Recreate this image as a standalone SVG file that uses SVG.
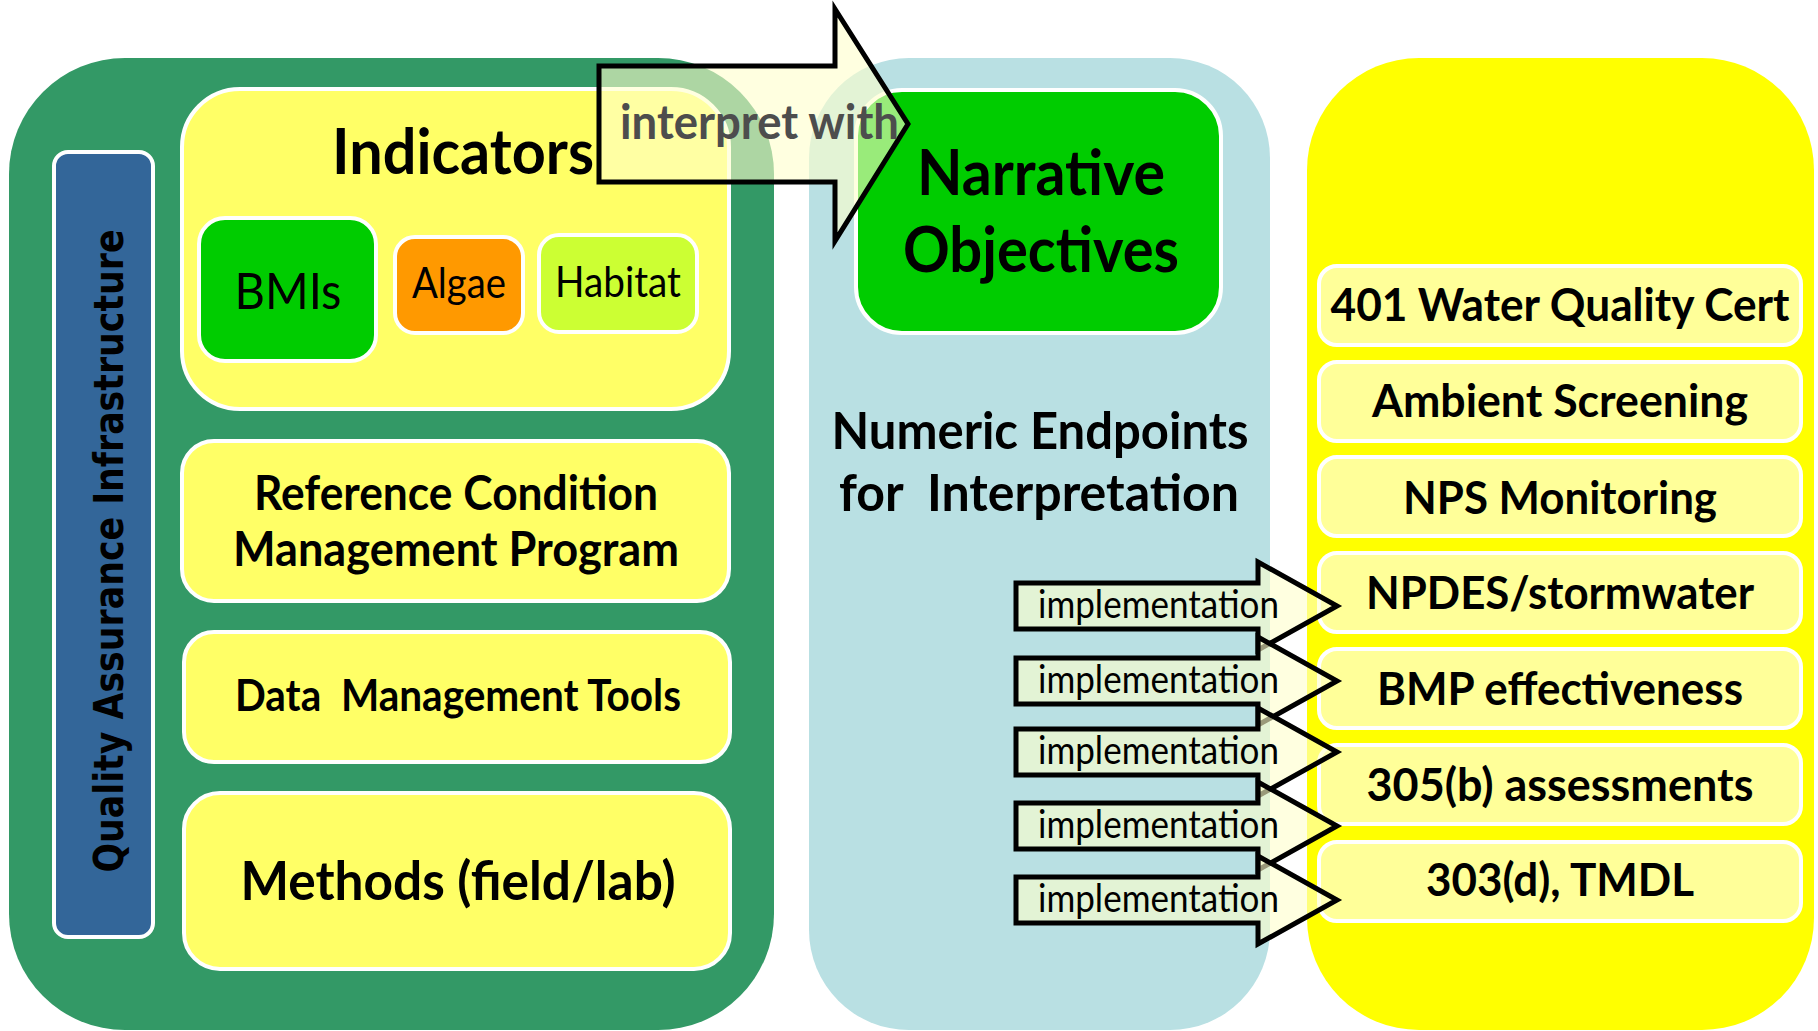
<svg xmlns="http://www.w3.org/2000/svg" width="1818" height="1031" viewBox="0 0 1818 1031">
<style>
.t{font-family:Lato,'Liberation Sans',sans-serif;fill:#000}
.b{font-weight:bold}
.box{stroke:#fff;stroke-width:4}
.rbox{fill:#FFFF99;stroke:#fff;stroke-width:4}
.ybox{fill:#FFFF66;stroke:#fff;stroke-width:4}
.arrow{fill:#FFFFCC;fill-opacity:0.6;stroke:#000;stroke-width:5;stroke-linejoin:miter}
.rt{font-size:46px;font-weight:bold}
.imp{font-size:38px}
</style>
<rect width="1818" height="1031" fill="#fff"/>
<g id="panel-left">
<rect x="9" y="58" width="765" height="972" rx="116" fill="#339966"/>
</g>
<g id="panel-middle">
<rect x="809" y="58" width="461" height="972" rx="100" fill="#B9E0E3"/>
</g>
<g id="panel-right">
<rect x="1307" y="58" width="507" height="972" rx="112" fill="#FFFF00"/>
</g>
<g id="qa">
<rect x="54" y="152" width="99" height="785" rx="14" fill="#336699" stroke="#fff" stroke-width="4"/>
<text class="t b" transform="translate(123,551) rotate(-90)" text-anchor="middle" font-size="40" textLength="643" lengthAdjust="spacingAndGlyphs" style="font-family:'DejaVu Sans',sans-serif">Quality Assurance Infrastructure</text>
</g>
<g id="indicators">
<rect class="ybox" x="182" y="89" width="547" height="320" rx="58"/>
<text class="t b" x="463" y="174" font-size="63" text-anchor="middle" textLength="262" lengthAdjust="spacingAndGlyphs">Indicators</text>
</g>
<g id="bmis">
<rect class="box" x="199" y="218" width="177" height="143" rx="26" fill="#00CC00"/>
<text class="t" x="288" y="309" font-size="50" text-anchor="middle" textLength="107" lengthAdjust="spacingAndGlyphs">BMIs</text>
</g>
<g id="algae">
<rect class="box" x="395" y="237" width="128" height="96" rx="20" fill="#FF9900"/>
<text class="t" x="459" y="298" font-size="42" text-anchor="middle" textLength="94" lengthAdjust="spacingAndGlyphs">Algae</text>
</g>
<g id="habitat">
<rect class="box" x="539" y="235" width="158" height="97" rx="20" fill="#CCFF33"/>
<text class="t" x="618" y="297" font-size="42" text-anchor="middle" textLength="126" lengthAdjust="spacingAndGlyphs">Habitat</text>
</g>
<g id="reference">
<rect class="ybox" x="182" y="441" width="547" height="160" rx="32"/>
<text class="t b" x="456" y="510" font-size="47" text-anchor="middle" textLength="404" lengthAdjust="spacingAndGlyphs">Reference Condition</text>
<text class="t b" x="456" y="566" font-size="47" text-anchor="middle" textLength="446" lengthAdjust="spacingAndGlyphs">Management Program</text>
</g>
<g id="data">
<rect class="ybox" x="184" y="632" width="546" height="130" rx="30"/>
<text class="t b" x="458" y="711" font-size="43" text-anchor="middle" textLength="446" lengthAdjust="spacingAndGlyphs" xml:space="preserve">Data  Management Tools</text>
</g>
<g id="methods">
<rect class="ybox" x="184" y="793" width="546" height="176" rx="36"/>
<text class="t b" x="458" y="900" font-size="54" text-anchor="middle" textLength="435" lengthAdjust="spacingAndGlyphs">Methods (field/lab)</text>
</g>
<g id="narrative">
<rect class="box" x="856" y="90" width="365" height="243" rx="46" fill="#00CC00"/>
<text class="t b" x="1041" y="195" font-size="63" text-anchor="middle" textLength="248" lengthAdjust="spacingAndGlyphs">Narrative</text>
<text class="t b" x="1041" y="272" font-size="63" text-anchor="middle" textLength="276" lengthAdjust="spacingAndGlyphs">Objectives</text>
</g>
<g id="numeric">
<text class="t b" x="1040" y="449" font-size="52" text-anchor="middle" textLength="417" lengthAdjust="spacingAndGlyphs">Numeric Endpoints</text>
<text class="t b" x="1039" y="511" font-size="52" text-anchor="middle" textLength="400" lengthAdjust="spacingAndGlyphs" xml:space="preserve">for  Interpretation</text>
</g>
<g id="uses">
<rect class="rbox" x="1319" y="266" width="482" height="79" rx="18"/>
<text class="t rt" x="1560" y="321" text-anchor="middle" textLength="459" lengthAdjust="spacingAndGlyphs">401 Water Quality Cert</text>
<rect class="rbox" x="1319" y="362" width="482" height="79" rx="18"/>
<text class="t rt" x="1560" y="417" text-anchor="middle" textLength="376" lengthAdjust="spacingAndGlyphs">Ambient Screening</text>
<rect class="rbox" x="1319" y="457" width="482" height="79" rx="18"/>
<text class="t rt" x="1560" y="514" text-anchor="middle" textLength="314" lengthAdjust="spacingAndGlyphs">NPS Monitoring</text>
<rect class="rbox" x="1319" y="553" width="482" height="79" rx="18"/>
<text class="t rt" x="1560" y="609" text-anchor="middle" textLength="388" lengthAdjust="spacingAndGlyphs">NPDES/stormwater</text>
<rect class="rbox" x="1319" y="649" width="482" height="79" rx="18"/>
<text class="t rt" x="1560" y="705" text-anchor="middle" textLength="366" lengthAdjust="spacingAndGlyphs">BMP effectiveness</text>
<rect class="rbox" x="1319" y="745" width="482" height="79" rx="18"/>
<text class="t rt" x="1560" y="801" text-anchor="middle" textLength="387" lengthAdjust="spacingAndGlyphs">305(b) assessments</text>
<rect class="rbox" x="1319" y="842" width="482" height="79" rx="18"/>
<text class="t rt" x="1560" y="896" text-anchor="middle" textLength="268" lengthAdjust="spacingAndGlyphs">303(d), TMDL</text>
</g>
<g id="connectors">
<path class="arrow" d="M599,66 L835,66 L835,9 L908,124 L835,241 L835,182 L599,182 Z"/>
<text class="t b" x="620" y="139" font-size="48" style="fill:#4D4D4D" textLength="279" lengthAdjust="spacingAndGlyphs">interpret with</text>
<path class="arrow" d="M1016,583 L1258,583 L1258,562 L1337,606 L1258,650 L1258,629 L1016,629 Z"/>
<text class="t imp" x="1038" y="618" textLength="241" lengthAdjust="spacingAndGlyphs">implementation</text>
<path class="arrow" d="M1016,658 L1258,658 L1258,637 L1337,681 L1258,725 L1258,704 L1016,704 Z"/>
<text class="t imp" x="1038" y="693" textLength="241" lengthAdjust="spacingAndGlyphs">implementation</text>
<path class="arrow" d="M1016,729 L1258,729 L1258,708 L1337,752 L1258,796 L1258,775 L1016,775 Z"/>
<text class="t imp" x="1038" y="764" textLength="241" lengthAdjust="spacingAndGlyphs">implementation</text>
<path class="arrow" d="M1016,803 L1258,803 L1258,782 L1337,826 L1258,870 L1258,849 L1016,849 Z"/>
<text class="t imp" x="1038" y="838" textLength="241" lengthAdjust="spacingAndGlyphs">implementation</text>
<path class="arrow" d="M1016,877 L1258,877 L1258,856 L1337,900 L1258,944 L1258,923 L1016,923 Z"/>
<text class="t imp" x="1038" y="912" textLength="241" lengthAdjust="spacingAndGlyphs">implementation</text>
</g>
</svg>
